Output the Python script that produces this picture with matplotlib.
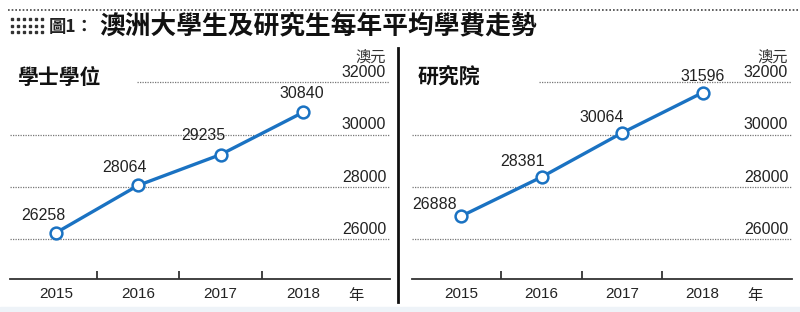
import matplotlib
matplotlib.use("Agg")
import matplotlib.pyplot as plt
from matplotlib.lines import Line2D
import matplotlib.transforms as mtransforms

plt.rcParams['font.family'] = ['Liberation Sans', 'Noto Sans CJK TC', 'DejaVu Sans']

years = ['2015', '2016', '2017', '2018']
bachelor = [26258, 28064, 29235, 30840]
postgrad = [26888, 28381, 30064, 31596]
yticks = [26000, 28000, 30000, 32000]
title = '澳洲大學生及研究生每年平均學費走勢'
fig_label = '圖1：'
panel_titles = ['學士學位', '研究院']
unit = '澳元'
year_unit = '年'

BLUE = '#1a72c2'
W, H = 800, 312
fig = plt.figure(figsize=(8, 3.12), dpi=100)

def fx(px):
    return px / W

def fy(py):
    return 1 - py / H

# top dotted rule
fig.add_artist(Line2D([fx(8), fx(800)], [fy(10), fy(10)], color='#444444',
                      lw=1.2, ls=(0, (1, 1.2))))
# dot grid decoration
for r in [19, 25.5, 32]:
    xs = [fx(12 + i * 6) for i in range(6)]
    fig.add_artist(Line2D(xs, [fy(r)] * 6, ls='none', marker='s', ms=1.6,
                          color='#333333'))
fig.text(fx(49), fy(27), fig_label, fontsize=12.5, fontweight='bold',
         family=['Noto Sans CJK TC'], va='center', ha='left', color='#222222')
fig.text(fx(99), fy(26), title, fontsize=18.5, fontweight='bold',
         family=['Noto Sans CJK TC'], va='center', ha='left', color='#111111')

# vertical separator
fig.add_artist(Line2D([fx(398), fx(398)], [fy(48), fy(302)], color='#111111', lw=2))

# light band at bottom
fig.add_artist(plt.Rectangle((0, 0), 1, fy(307), transform=fig.transFigure,
                             color='#eef3f8', zorder=0))

ymin, ymax = 24495, 33220
panels = [
    dict(left=10, right=390, xlim=(-0.56, 4.06), data=bachelor, title=panel_titles[0],
         tx=17, offsets=[(-13, 17), (-14, 18), (-17, 19), (-1, 19)]),
    dict(left=412, right=792, xlim=(-0.61, 4.11), data=postgrad, title=panel_titles[1],
         tx=418, offsets=[(-27, 12), (-19, 16), (-20, 15), (0, 16)]),
]

for p in panels:
    ax = fig.add_axes([fx(p['left']), fy(279), fx(p['right'] - p['left']), fy(50) - fy(279)])
    ax.set_xlim(*p['xlim'])
    ax.set_ylim(ymin, ymax)
    ax.patch.set_alpha(0)
    for s in ['top', 'left', 'right']:
        ax.spines[s].set_visible(False)
    ax.spines['bottom'].set_color('#333333')
    ax.spines['bottom'].set_linewidth(1.3)
    x = list(range(len(years)))
    ax.set_xticks(x)
    ax.set_xticklabels(years, fontsize=11, color='#222222')
    ax.tick_params(axis='x', which='major', length=0, pad=6)
    ax.set_xticks([0.5, 1.5, 2.5], minor=True)
    ax.tick_params(axis='x', which='minor', direction='in', length=6, width=1.3,
                   color='#333333')
    ax.set_yticks([])
    xtrans = mtransforms.blended_transform_factory(ax.transData, ax.transAxes)
    ytrans = ax.get_yaxis_transform()
    ax.text(3.65, -0.037, year_unit, transform=xtrans, ha='center', va='top',
            fontsize=11, color='#222222', family=['Noto Sans CJK TC'])
    # gridlines
    for v in yticks:
        xmin = 0.333 if v == 32000 else 0.0
        ax.axhline(v, xmin=xmin, xmax=1.0, color='#777777', lw=0.9,
                   ls=(0, (1, 1)), zorder=1)
        ax.annotate(str(v), xy=(0.99, v), xycoords=ytrans, xytext=(0, 1.5),
                    textcoords='offset points', ha='right', va='bottom',
                    fontsize=11.5, color='#222222')
    ax.text(0.99, 0.97, unit, transform=ax.transAxes, ha='right', va='center',
            fontsize=11, color='#333333', family=['Noto Sans CJK TC'])
    ax.text(fx(p['tx']), fy(77), p['title'], transform=fig.transFigure, ha='left',
            va='center', fontsize=15, fontweight='bold', color='#111111',
            family=['Noto Sans CJK TC'])
    ax.plot(x, p['data'], color=BLUE, lw=2.4, marker='o', ms=8.5, mfc='white',
            mec=BLUE, mew=1.8, zorder=3, clip_on=False)
    for xi, v, (dx, dy) in zip(x, p['data'], p['offsets']):
        ax.annotate(str(v), xy=(xi, v), xytext=(dx * 0.72, dy * 0.72),
                    textcoords='offset points', ha='center', va='center',
                    fontsize=11.5, color='#222222')

fig.savefig('out.png', dpi=100)
